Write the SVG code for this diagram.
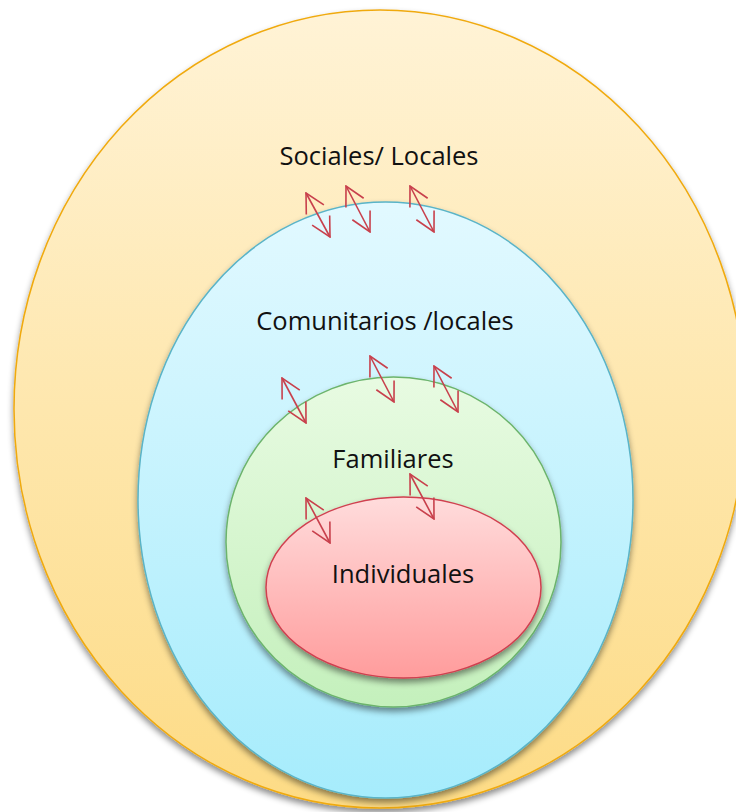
<svg xmlns="http://www.w3.org/2000/svg" width="736" height="812" viewBox="0 0 736 812">
<style>
.lbl{font-family:"Open Sans","Liberation Sans",sans-serif;font-size:25.5px;fill:#111;text-anchor:middle}
.arr{stroke:#c8404c;stroke-width:1.6;fill:none;marker-start:url(#head);marker-end:url(#head)}
</style>
<defs>
<linearGradient id="gO" x1="0" y1="0" x2="0" y2="1"><stop offset="0" stop-color="#fff3d6"/><stop offset="1" stop-color="#fddb85"/></linearGradient>
<linearGradient id="gB" x1="0" y1="0" x2="0" y2="1"><stop offset="0" stop-color="#e2f9ff"/><stop offset="1" stop-color="#a6ecfc"/></linearGradient>
<linearGradient id="gG" x1="0" y1="0" x2="0" y2="1"><stop offset="0" stop-color="#e8fbe2"/><stop offset="1" stop-color="#c4f0bc"/></linearGradient>
<linearGradient id="gR" x1="0" y1="0" x2="0" y2="1"><stop offset="0" stop-color="#ffdcdc"/><stop offset="1" stop-color="#ff9c9c"/></linearGradient>
<filter id="sh" x="-10%" y="-10%" width="120%" height="125%"><feDropShadow dx="0" dy="4" stdDeviation="3" flood-color="#000" flood-opacity="0.45"/></filter>
<marker id="head" viewBox="-21 -12 22 24" refX="0" refY="0" markerWidth="22" markerHeight="24" markerUnits="userSpaceOnUse" orient="auto-start-reverse">
<path d="M-19,-10 L0,0 L-19,10" fill="none" stroke="#c8404c" stroke-width="1.6"/>
</marker>
</defs>
<g id="sociales"><ellipse cx="380" cy="409" rx="366" ry="399" fill="url(#gO)" stroke="#f0aa10" stroke-width="1.5" filter="url(#sh)"/><text class="lbl" x="379" y="165">Sociales/ Locales</text></g>
<g id="comunitarios"><ellipse cx="385.5" cy="500" rx="247.5" ry="298" fill="url(#gB)" stroke="#5ab4c8" stroke-width="1.5" filter="url(#sh)"/><text class="lbl" x="385" y="330">Comunitarios /locales</text></g>
<g id="familiares"><ellipse cx="393.5" cy="542" rx="167.5" ry="165" fill="url(#gG)" stroke="#6cb46c" stroke-width="1.5" filter="url(#sh)"/><text class="lbl" x="393" y="468">Familiares</text></g>
<g id="individuales"><ellipse cx="403.5" cy="587.5" rx="137.5" ry="90.5" fill="url(#gR)" stroke="#d04050" stroke-width="1.5" filter="url(#sh)"/><text class="lbl" x="403" y="583">Individuales</text></g>
<g id="connectors">
<line class="arr" x1="306" y1="193" x2="330" y2="237"/>
<line class="arr" x1="346" y1="186" x2="370" y2="232"/>
<line class="arr" x1="410" y1="186" x2="434" y2="232"/>
<line class="arr" x1="282" y1="378" x2="306" y2="423"/>
<line class="arr" x1="370" y1="356" x2="394" y2="402"/>
<line class="arr" x1="434" y1="366" x2="458" y2="412"/>
<line class="arr" x1="306" y1="498" x2="330" y2="543"/>
<line class="arr" x1="410" y1="474" x2="434" y2="519"/>
</g>
</svg>
